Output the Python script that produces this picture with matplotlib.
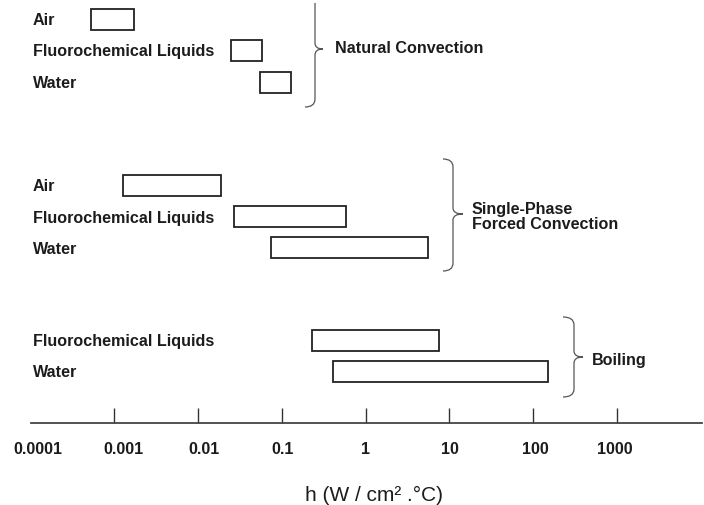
import matplotlib
matplotlib.use("Agg")
import matplotlib.pyplot as plt
from matplotlib.path import Path
from matplotlib.patches import PathPatch
from matplotlib.ticker import NullLocator, FixedLocator
from matplotlib.transforms import blended_transform_factory, ScaledTranslation

plt.rcParams['font.family'] = ['Liberation Sans', 'DejaVu Sans']

# ---------------- data ----------------
group_names = ['Natural Convection', 'Single-Phase\nForced Convection', 'Boiling']

nat_labels = ['Air', 'Fluorochemical Liquids', 'Water']
nat_low = [0.00052, 0.0245, 0.055]
nat_high = [0.0017, 0.058, 0.13]

fc_labels = ['Air', 'Fluorochemical Liquids', 'Water']
fc_low = [0.00126, 0.027, 0.074]
fc_high = [0.0186, 0.58, 5.6]

boil_labels = ['Fluorochemical Liquids', 'Water']
boil_low = [0.23, 0.41]
boil_high = [7.5, 150]

tick_values = [0.0001, 0.001, 0.01, 0.1, 1, 10, 100, 1000]
tick_labels = ['0.0001', '0.001', '0.01', '0.1', '1', '10', '100', '1000']
x_label = 'h (W / cm² .°C)'

# ---------------- layout (pixel units, y from top) ----------------
W, H = 704, 506
ax_left, ax_right, ax_bottom = 30.6, 701.7, 424.0
nat_rows = [20, 51, 83]
fc_rows = [186, 217.5, 248.5]
boil_rows = [341, 372]
bar_h = 21
tick_label_dx = [7, 9, 6, 1, 0, 1, 2, -2]   # small horizontal label offsets (px)

TXT = '#1c1c1c'
fs = 11.6

fig = plt.figure(figsize=(W / 100, H / 100), dpi=100)
ax = fig.add_axes([ax_left / W, (H - ax_bottom) / H, (ax_right - ax_left) / W, ax_bottom / H])
ax.set_xscale('log')
ax.set_xlim(1e-4, 10 ** 4.015)
ax.set_ylim(ax_bottom, 0)

for rows, lo, hi in [(nat_rows, nat_low, nat_high), (fc_rows, fc_low, fc_high),
                     (boil_rows, boil_low, boil_high)]:
    widths = [h - l for l, h in zip(lo, hi)]
    ax.barh(rows, widths, left=lo, height=bar_h, facecolor='white',
            edgecolor='#222222', linewidth=1.3)

for s in ['top', 'left', 'right']:
    ax.spines[s].set_visible(False)
ax.spines['bottom'].set_color('#444444')
ax.spines['bottom'].set_linewidth(1.3)
ax.yaxis.set_visible(False)
ax.xaxis.set_major_locator(FixedLocator(tick_values))
ax.xaxis.set_minor_locator(NullLocator())
ax.tick_params(axis='x', direction='in', length=11, width=1.0, color='#333333',
               labelbottom=False)
ax.xaxis.get_major_ticks()[0].tick1line.set_visible(False)
ax.patch.set_visible(False)

blend = blended_transform_factory(ax.transData, ax.transAxes)
for v, t, dx in zip(tick_values, tick_labels, tick_label_dx):
    tr = blend + ScaledTranslation(dx / 100, -26 / 100, fig.dpi_scale_trans)
    ax.text(v, 0, t, transform=tr, ha='center', va='center', fontsize=fs,
            fontweight='bold', color=TXT, clip_on=False)

# overlay in pixel coordinates for labels and braces
ov = fig.add_axes([0, 0, 1, 1])
ov.set_xlim(0, W)
ov.set_ylim(H, 0)
ov.axis('off')

for rows, labels in [(nat_rows, nat_labels), (fc_rows, fc_labels), (boil_rows, boil_labels)]:
    for y, t in zip(rows, labels):
        ov.text(33, y + 0.5, t, ha='left', va='center', fontsize=fs,
                fontweight='bold', color=TXT)


def brace(x_end, x_spine, x_tip, y_top, y_mid, y_bot, r=8, rt=6, top_curl=True):
    verts, codes = [], []
    if top_curl:
        verts += [(x_end, y_top), (x_spine, y_top), (x_spine, y_top + r)]
        codes += [Path.MOVETO, Path.CURVE3, Path.CURVE3]
    else:
        verts += [(x_spine, y_top)]
        codes += [Path.MOVETO]
    verts += [(x_spine, y_mid - rt), (x_spine, y_mid), (x_tip, y_mid),
              (x_spine, y_mid), (x_spine, y_mid + rt),
              (x_spine, y_bot - r), (x_spine, y_bot), (x_end, y_bot)]
    codes += [Path.LINETO, Path.CURVE3, Path.CURVE3,
              Path.CURVE3, Path.CURVE3,
              Path.LINETO, Path.CURVE3, Path.CURVE3]
    ov.add_patch(PathPatch(Path(verts, codes), fill=False, edgecolor='#555555',
                           linewidth=0.9))


brace(305, 315, 323, 4, 50, 108, top_curl=False)
brace(443, 453, 463, 160, 215, 272)
brace(563, 574, 583, 318, 358, 398)

ov.text(335, 48, group_names[0], ha='left', va='center', fontsize=fs,
        fontweight='bold', color=TXT)
ov.text(472, 217, group_names[1], ha='left', va='center', fontsize=fs,
        fontweight='bold', color=TXT, linespacing=0.95)
ov.text(592, 360, group_names[2], ha='left', va='center', fontsize=fs,
        fontweight='bold', color=TXT)

ov.text(374, 495, x_label, ha='center', va='center', fontsize=15, color=TXT)

fig.savefig('out.png', dpi=100)
